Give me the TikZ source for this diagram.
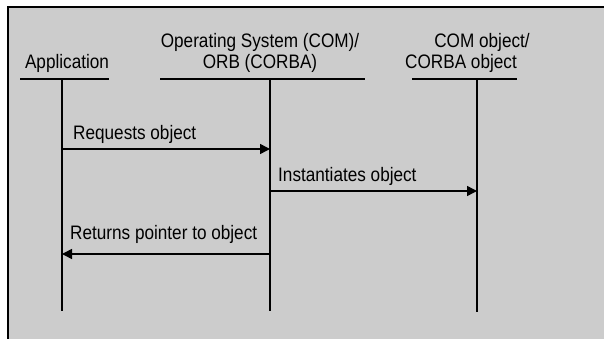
\documentclass[tikz,border=0pt]{standalone}
\usepackage{fontspec}
\setmainfont[FakeStretch=0.88]{Liberation Sans}
\usetikzlibrary{arrows.meta}
\definecolor{bg}{HTML}{CCCCCC}
\begin{document}
\begin{tikzpicture}[x=1pt,y=-1pt,
  lbl/.style={font=\fontsize{19.5}{21}\selectfont, inner sep=0pt, anchor=base},
  msg/.style={font=\fontsize{19.5}{21}\selectfont, inner sep=0pt, anchor=base west},
  life/.style={line width=1.8pt},
  head/.style={line width=1.8pt},
  call/.style={line width=1.5pt, -{Triangle[length=10pt,width=10pt]}}]
\useasboundingbox (0,0) rectangle (604,339);
\fill[bg] (7.5,7) rectangle (604,339);
\draw[line width=2pt] (7.5,339) -- (7.5,7) -- (604,7);
% headers
\node[lbl] (app) at (67,69) {Application};
\node[lbl] (os1) at (260,48) {Operating System (COM)/};
\node[lbl] (os2) at (260,69) {ORB (CORBA)};
\node[lbl] (com1) at (482,48) {COM object/};
\node[lbl] (com2) at (461,69) {CORBA object};
\draw[head] (20,79) -- (109,79);
\draw[head] (160,79) -- (365,79);
\draw[head] (412,79) -- (517,79);
% lifelines
\coordinate (a0) at (62,79);  \coordinate (a1) at (62,311);
\coordinate (o0) at (270,79); \coordinate (o1) at (270,311);
\coordinate (c0) at (477,79); \coordinate (c1) at (477,312);
\draw[life] (a0) -- (a1);
\draw[life] (o0) -- (o1);
\draw[life] (c0) -- (c1);
% messages
\coordinate (m1a) at (62,149);  \coordinate (m1b) at (270,149);
\coordinate (m2a) at (270,191); \coordinate (m2b) at (477,191);
\coordinate (m3a) at (270,254); \coordinate (m3b) at (62,254);
\draw[call] (m1a) -- (m1b);
\draw[call] (m2a) -- (m2b);
\draw[call] (m3a) -- (m3b);
\node[msg] (t1) at (73,140) {Requests object};
\node[msg] (t2) at (278,182) {Instantiates object};
\node[msg] (t3) at (70,239) {Returns pointer to object};
\end{tikzpicture}
\end{document}
